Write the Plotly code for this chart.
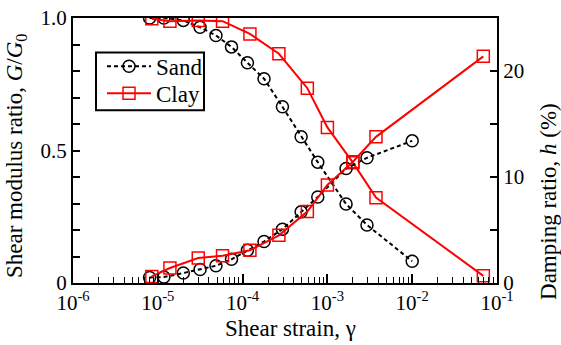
import plotly.graph_objects as go

# Sand
sand_strain = [8.0e-6, 1.18e-5, 2.0e-5, 3.15e-5, 4.85e-5, 7.4e-5, 1.14e-4, 1.79e-4,
               2.95e-4, 4.9e-4, 7.7e-4, 1.66e-3, 2.93e-3, 1.0e-2]
sand_G = [1.0, 1.0, 0.991, 0.965, 0.934, 0.891, 0.831, 0.771, 0.665, 0.552, 0.456,
          0.298, 0.219, 0.082]
sand_h = [0.52, 0.56, 0.94, 1.27, 1.63, 2.24, 3.09, 3.91, 5.08, 6.71, 8.12, 10.8,
          11.81, 13.41]

# Clay
clay_strain = [8.5e-6, 1.39e-5, 3.0e-5, 5.8e-5, 1.22e-4, 2.68e-4, 5.8e-4, 1.0e-3,
               2.0e-3, 3.74e-3, 6.9e-2]
clay_G = [0.997, 0.988, 0.991, 0.988, 0.940, 0.865, 0.735, 0.587, 0.454, 0.322, 0.027]
clay_h = [0.62, 1.41, 2.35, 2.57, 3.09, 4.50, 6.74, 9.25, 11.44, 13.79, 21.38]

x_tickvals = [1e-6, 1e-5, 1e-4, 1e-3, 1e-2, 1e-1]
x_ticktext = ["10<sup>-6</sup>", "10<sup>-5</sup>", "10<sup>-4</sup>",
              "10<sup>-3</sup>", "10<sup>-2</sup>", "10<sup>-1</sup>"]
x_minor = [m * d for d in [1e-6, 1e-5, 1e-4, 1e-3, 1e-2] for m in range(2, 10)]
yl_tickvals = [0, 0.5, 1.0]
yl_ticktext = ["0", "0.5", "1.0"]
yr_tickvals = [0, 10, 20]
yr_ticktext = ["0", "10", "20"]

FONT = "Liberation Serif"
sand_line = dict(color="black", width=2, dash="4px,3px")
clay_line = dict(color="#ff0000", width=2)
sand_marker = dict(symbol="circle-open", size=12, color="black", line=dict(width=1.5))
clay_marker = dict(symbol="square-open", size=12, color="#ff0000", line=dict(width=1.5))

fig = go.Figure()
fig.add_trace(go.Scatter(x=sand_strain, y=sand_G, mode="lines+markers", name="Sand",
                         line=sand_line, marker=sand_marker, yaxis="y", legend="legend"))
fig.add_trace(go.Scatter(x=sand_strain, y=sand_h, mode="lines+markers", name="Sand",
                         line=sand_line, marker=sand_marker, yaxis="y2", showlegend=False))
fig.add_trace(go.Scatter(x=clay_strain, y=clay_G, mode="lines+markers", name="Clay",
                         line=clay_line, marker=clay_marker, yaxis="y", legend="legend2"))
fig.add_trace(go.Scatter(x=clay_strain, y=clay_h, mode="lines+markers", name="Clay",
                         line=clay_line, marker=clay_marker, yaxis="y2", showlegend=False))

tick_font = dict(family=FONT, size=21, color="black")
title_font = dict(family=FONT, size=23, color="black")

def px_x(p):
    return (p - 73) / 424.0

def px_y(p):
    return (283.3 - p) / 265.8

leg_common = dict(xanchor="left", yanchor="middle", borderwidth=0,
                  bgcolor="rgba(0,0,0,0)", font=dict(family=FONT, size=23),
                  itemwidth=44)

fig.update_layout(
    width=561, height=345,
    margin=dict(l=73, r=64, t=18, b=62, autoexpand=False),
    paper_bgcolor="white", plot_bgcolor="white",
    font=dict(family=FONT, size=21, color="black"),
    showlegend=True,
    legend=dict(x=px_x(102), y=px_y(66), **leg_common),
    legend2=dict(x=px_x(102), y=px_y(93), **leg_common),
    shapes=[dict(type="rect", xref="paper", yref="paper",
                 x0=px_x(96), x1=px_x(204), y0=px_y(110), y1=px_y(52),
                 line=dict(color="black", width=2), fillcolor="rgba(0,0,0,0)",
                 layer="above")],
    xaxis=dict(type="log", range=[-6, -1], tickvals=x_tickvals, ticktext=x_ticktext,
               ticks="inside", ticklen=9, tickwidth=1.5, tickcolor="black",
               tickfont=tick_font, automargin=False,
               minor=dict(tickvals=x_minor, ticks="inside", ticklen=6, tickwidth=1.2,
                          tickcolor="black", showgrid=False),
               showline=True, linewidth=2, linecolor="black", mirror=True,
               showgrid=False, zeroline=False),
    yaxis=dict(range=[0, 1.0], tickvals=yl_tickvals, ticktext=yl_ticktext,
               ticks="inside", ticklen=7, tickwidth=1.5, tickcolor="black",
               tickfont=tick_font, automargin=False,
               minor=dict(dtick=0.1, ticks="inside", ticklen=7, tickwidth=1.5,
                          tickcolor="black", showgrid=False),
               showline=True, linewidth=2, linecolor="black",
               showgrid=False, zeroline=False),
    yaxis2=dict(range=[0, 25], overlaying="y", side="right",
                tickvals=yr_tickvals, ticktext=yr_ticktext,
                ticks="inside", ticklen=7, tickwidth=1.5, tickcolor="black",
                tickfont=tick_font, automargin=False,
                minor=dict(dtick=5, ticks="inside", ticklen=7, tickwidth=1.5,
                           tickcolor="black", showgrid=False),
                showline=True, linewidth=2, linecolor="black",
                showgrid=False, zeroline=False),
    annotations=[
        dict(text="Shear strain, γ", xref="paper", yref="paper",
             x=px_x(290), y=px_y(329), xanchor="center",
             yanchor="middle", showarrow=False, font=title_font),
        dict(text="Shear modulus ratio, <i>G</i>/<i>G</i><sub>0</sub>",
             xref="paper", yref="paper", x=px_x(16), y=px_y(156),
             xanchor="center", yanchor="middle", textangle=-90, showarrow=False,
             font=title_font),
        dict(text="Damping ratio, <i>h</i> (%)", xref="paper", yref="paper",
             x=px_x(549), y=px_y(202), xanchor="center",
             yanchor="middle", textangle=-90, showarrow=False, font=title_font),
    ],
)

fig.write_html("out.html", post_script="document.body.style.margin='0';",
               config={"displayModeBar": False})
